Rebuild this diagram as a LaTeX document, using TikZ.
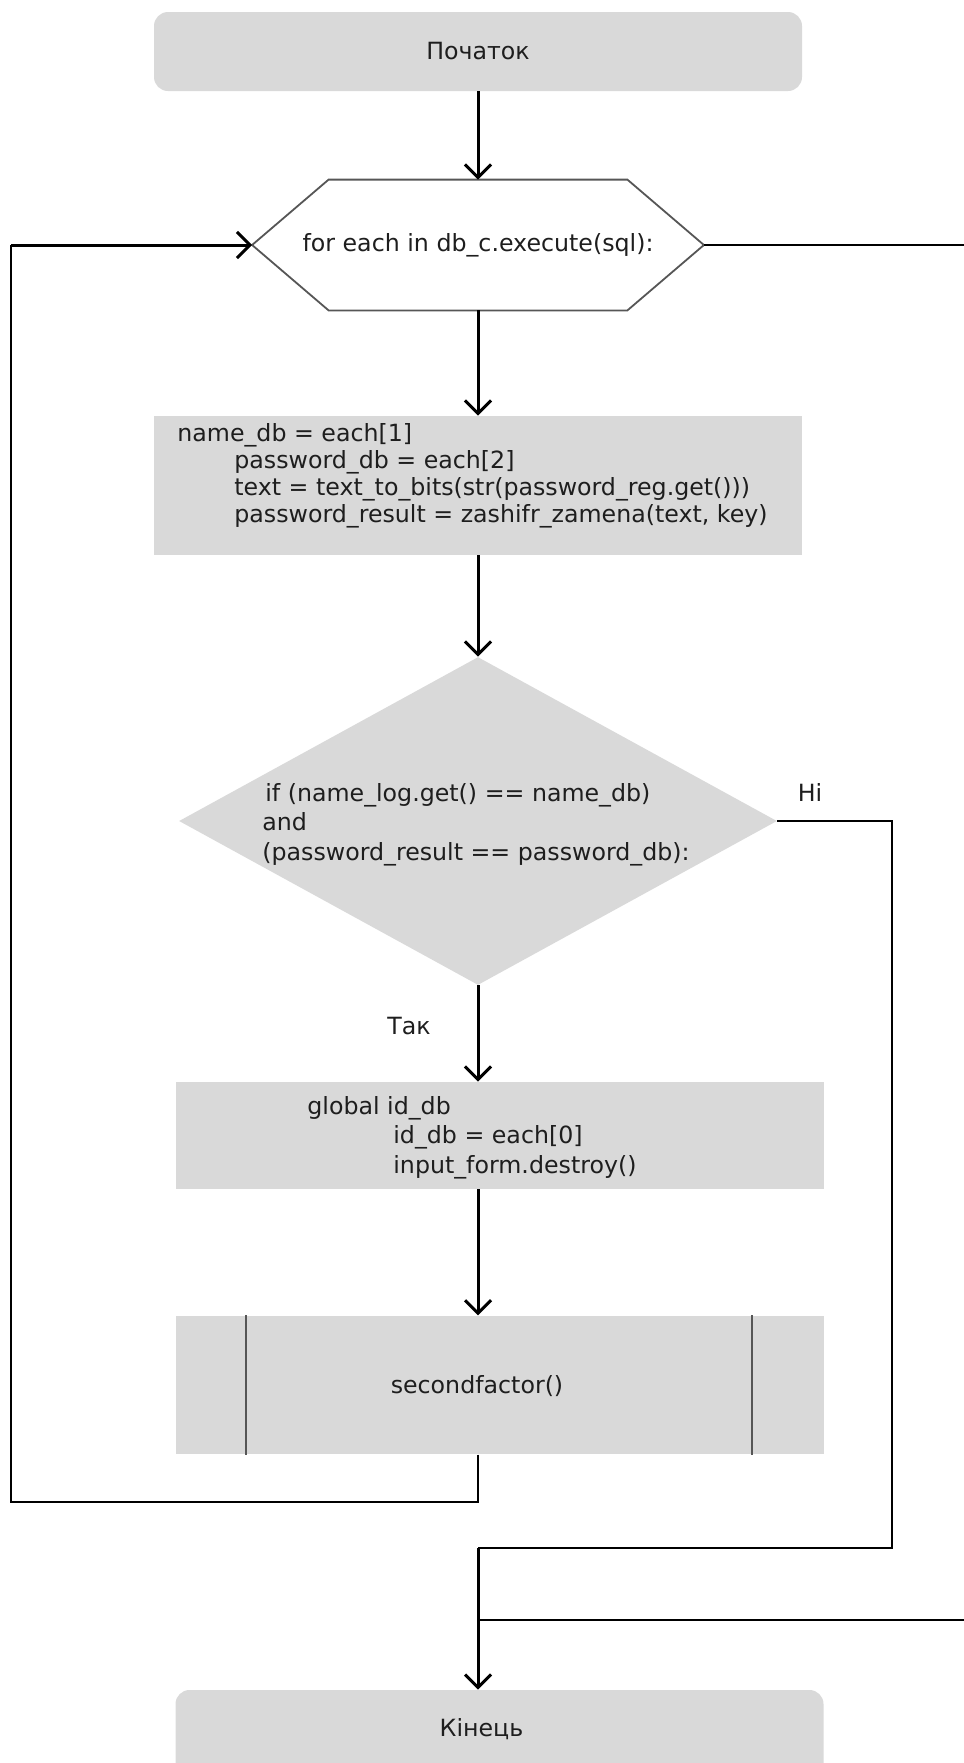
\documentclass[tikz,border=0pt]{standalone}
\usepackage{fontspec}
\setmainfont{DejaVu Sans}
\usepackage{tikz}
\usetikzlibrary{arrows.meta,shapes,calc}
\definecolor{boxgray}{HTML}{D9D9D9}
\definecolor{ink}{HTML}{1E1E1E}

\begin{document}
\begin{tikzpicture}[x=0.5pt, y=-0.5pt,
    every node/.style={text=ink, inner sep=0pt, font=\fontsize{11.85}{13.5}\selectfont},
    terminal/.style={fill=boxgray, rounded corners=7pt, minimum width=324pt},
    proc/.style={fill=boxgray, minimum width=324pt},
    code/.style={anchor=north west, align=left},
    flow/.style={line width=1.5pt, -{Straight Barb[length=6.5pt,width=13pt]}},
    wire/.style={line width=0.75pt}]
    \useasboundingbox (0,0) rectangle (964,1763);

    \node[terminal, minimum height=39.5pt] (start) at (478,51.5) {Початок};
    \node[minimum width=225.5pt, minimum height=65pt] (loop) at (478,245) {for each in db\_c.execute(sql):};
    \draw[draw=ink!75, line width=0.9pt] (loop.west) -- ($(loop.north west)+(76.5,0)$) -- ($(loop.north east)+(-76.5,0)$) -- (loop.east) -- ($(loop.south east)+(-76.5,0)$) -- ($(loop.south west)+(76.5,0)$) -- cycle;

    \node[proc, minimum height=69.5pt] (assign) at (478,485.5) {};
    \node[code] (assigntext) at (177,423) {name\_db = each[1]\\\hspace*{28.5pt}password\_db = each[2]\\\hspace*{28.5pt}text = text\_to\_bits(str(password\_reg.get()))\\\hspace*{28.5pt}password\_result = zashifr\_zamena(text, key)};

    \node[diamond, fill=boxgray, minimum width=299pt, minimum height=164pt] (cond) at (478,821) {};
    \node[code, font=\fontsize{11.85}{14.75}\selectfont] (condtext) at (262,783) {\hspace*{1.5pt}if (name\_log.get() == name\_db)\\and\\(password\_result == password\_db):};

    \node[proc, minimum height=53.5pt] (act) at (499.5,1135.5) {};
    \node[code, font=\fontsize{11.85}{14.75}\selectfont] (acttext) at (307,1096) {global id\_db\\\hspace*{43pt}id\_db = each[0]\\\hspace*{43pt}input\_form.destroy()};

    \node[proc, minimum height=69.25pt] (sub) at (499.5,1385) {};
    \draw[draw=ink!75, line width=0.9pt] ($(sub.north west)+(70.5,0)$) -- ($(sub.south west)+(70.5,0)$);
    \draw[draw=ink!75, line width=0.9pt] ($(sub.north east)+(-72,0)$) -- ($(sub.south east)+(-72,0)$);
    \node (subtext) at (477,1386) {secondfactor()};

    \node[terminal, minimum height=55pt] (finish) at (499.5,1745) {};
    \node (finishtext) at (481.5,1729) {Кінець};

    \node (yes) at (409,1026) {Так};
    \node (no) at (810,792) {Ні};

    \coordinate (back) at (11,1502);
    \coordinate (skip) at (892,1548);
    \coordinate (done) at (970,1620);

    \draw[flow] (start) -- (loop);
    \draw[flow] (loop) -- (assign);
    \draw[flow] (assign) -- (cond);
    \draw[flow] (cond.south) -- (cond.south |- act.north);
    \draw[flow] (cond.south |- act.south) -- (cond.south |- sub.north);
    \draw[wire] (cond.south |- sub.south) |- (back) -- (back |- loop.west);
    \draw[flow] (back |- loop.west) -- (loop.west);
    \draw[wire] (cond.east) -| (skip) -- (skip -| cond.south);
    \draw[wire] (loop.east) -| (done) -- (done -| cond.south);
    \draw[flow] (skip -| cond.south) -- (cond.south |- finish.north);
\end{tikzpicture}
\end{document}
